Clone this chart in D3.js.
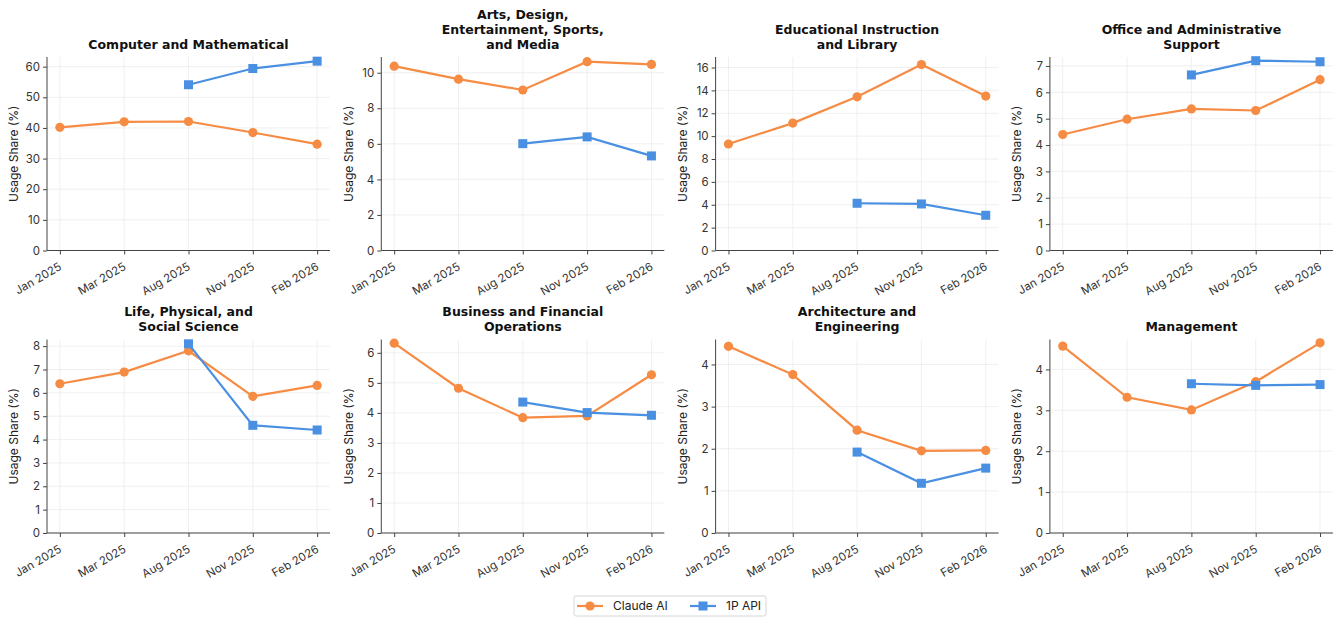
<!DOCTYPE html>
<html>
<head>
<meta charset="utf-8">
<script src="https://cdn.jsdelivr.net/npm/d3@7"></script>
<style>
	body { margin: 0; background: #fff; }
	svg { display: block; font-family: Inter, "Noto Sans", sans-serif; }
</style>
</head>
<body>
<script>
(function () {

	var months = ["Jan 2025", "Mar 2025", "Aug 2025", "Nov 2025", "Feb 2026"];

	var panelTitles = [
		["Computer and Mathematical"],
		["Arts, Design,", "Entertainment, Sports,", "and Media"],
		["Educational Instruction", "and Library"],
		["Office and Administrative", "Support"],
		["Life, Physical, and", "Social Science"],
		["Business and Financial", "Operations"],
		["Architecture and", "Engineering"],
		["Management"]
	];

	var seriesNames = ["Claude AI", "1P API"];

	// usage share (%), one row per panel
	var claudeAI = [
		[40.2, 42.0, 42.1, 38.5, 34.7],
		[10.37, 9.64, 9.03, 10.62, 10.47],
		[9.31, 11.14, 13.44, 16.26, 13.5],
		[4.40, 4.98, 5.37, 5.31, 6.48],
		[6.39, 6.89, 7.80, 5.85, 6.32],
		[6.32, 4.82, 3.84, 3.90, 5.27],
		[4.43, 3.76, 2.44, 1.95, 1.96],
		[4.57, 3.32, 3.01, 3.70, 4.65]
	];

	var api1P = [
		[null, null, 54.1, 59.4, 61.8],
		[null, null, 6.01, 6.39, 5.32],
		[null, null, 4.13, 4.07, 3.08],
		[null, null, 6.66, 7.20, 7.16],
		[null, null, 8.10, 4.61, 4.41],
		[null, null, 4.36, 4.01, 3.92],
		[null, null, 1.92, 1.18, 1.54],
		[null, null, 3.65, 3.61, 3.63]
	];

	var yTickStep = [10, 2, 2, 1, 1, 1, 1, 1];

	var colors = ["#F68B43", "#4A90E2"],
		w = 1339,
		h = 619,
		plotW = 283,
		plotH = 193.5,
		colLeft = 47,
		colStep = 334.3,
		rowTop = [57, 339.5];

	var svg = d3.select("body")
		.append("svg")
		.attr("width", w)
		.attr("height", h);

	svg.append("rect")
		.attr("width", w)
		.attr("height", h)
		.attr("fill", "#fff");

	var x = d3.scalePoint()
		.domain(months)
		.range([0, plotW])
		.padding(0.2);

	panelTitles.forEach(function (title, p) {
		var series = [claudeAI[p], api1P[p]],
			all = claudeAI[p].concat(api1P[p]).filter(function (v) { return v != null; }),
			ext = d3.extent(all),
			yMax = ext[1] + 0.05 * (ext[1] - ext[0]),
			ticks = d3.range(0, yMax + 1e-9, yTickStep[p]);

		var y = d3.scaleLinear()
			.domain([0, yMax])
			.range([plotH, 0]);

		var g = svg.append("g")
			.attr("transform", "translate(" + (colLeft + (p % 4) * colStep) + "," + rowTop[Math.floor(p / 4)] + ")");

		// grid
		g.append("g").selectAll("line")
			.data(ticks)
			.enter()
			.append("line")
			.attr("x1", 0).attr("x2", plotW)
			.attr("y1", function (d) { return y(d); })
			.attr("y2", function (d) { return y(d); })
			.attr("stroke", "#ececec")
			.attr("stroke-width", 0.8);

		g.append("g").selectAll("line")
			.data(months)
			.enter()
			.append("line")
			.attr("x1", function (d) { return x(d); })
			.attr("x2", function (d) { return x(d); })
			.attr("y1", 0).attr("y2", plotH)
			.attr("stroke", "#ececec")
			.attr("stroke-width", 0.8);

		// axes
		var yAxis = g.append("g")
			.call(d3.axisLeft(y).tickValues(ticks).tickSize(4).tickPadding(3).tickFormat(d3.format("d")));

		var xAxis = g.append("g")
			.attr("transform", "translate(0," + plotH + ")")
			.call(d3.axisBottom(x).tickSize(4).tickPadding(3));

		[yAxis, xAxis].forEach(function (a) {
			a.select(".domain").attr("stroke", "#444").attr("stroke-width", 1);
			a.selectAll(".tick line").attr("stroke", "#444");
			a.selectAll("text")
				.attr("fill", "#333")
				.style("font-size", "11.5px")
				.style("font-family", "Inter, sans-serif");
		});
		yAxis.select(".domain").attr("d", "M0," + plotH + "V0");
		xAxis.select(".domain").attr("d", "M0,0H" + plotW);

		xAxis.selectAll("text")
			.attr("text-anchor", "end")
			.attr("dy", "0.35em")
			.attr("y", 0)
			.attr("transform", "translate(0,15) rotate(-30)");

		g.append("text")
			.attr("transform", "translate(-33," + (plotH / 2) + ") rotate(-90)")
			.attr("text-anchor", "middle")
			.attr("dy", "0.35em")
			.attr("fill", "#222")
			.style("font-size", "12px")
			.text("Usage Share (%)");

		// title
		g.append("text")
			.attr("text-anchor", "middle")
			.attr("fill", "#111")
			.style("font-family", "'DejaVu Sans', sans-serif")
			.style("font-size", "12.5px")
			.style("font-weight", "bold")
			.selectAll("tspan")
			.data(title)
			.enter()
			.append("tspan")
			.attr("x", plotW / 2)
			.attr("y", function (d, i) { return -8.5 - (title.length - 1 - i) * 15; })
			.text(function (d) { return d; });

		// lines and markers
		series.forEach(function (vals, s) {
			var pts = vals.map(function (v, i) { return { m: months[i], v: v }; })
				.filter(function (d) { return d.v != null; });

			var line = d3.line()
				.x(function (d) { return x(d.m); })
				.y(function (d) { return y(d.v); });

			g.append("path")
				.datum(pts)
				.attr("d", line)
				.attr("fill", "none")
				.attr("stroke", colors[s])
				.attr("stroke-width", 2.2);

			if (s === 0) {
				g.selectAll(".c" + s)
					.data(pts)
					.enter()
					.append("circle")
					.attr("cx", function (d) { return x(d.m); })
					.attr("cy", function (d) { return y(d.v); })
					.attr("r", 4.6)
					.attr("fill", colors[s]);
			} else {
				g.selectAll(".c" + s)
					.data(pts)
					.enter()
					.append("rect")
					.attr("x", function (d) { return x(d.m) - 4.5; })
					.attr("y", function (d) { return y(d.v) - 4.5; })
					.attr("width", 9)
					.attr("height", 9)
					.attr("fill", colors[s]);
			}
		});
	});

	// legend
	var legend = svg.append("g")
		.attr("transform", "translate(574,596)");

	legend.append("rect")
		.attr("width", 192)
		.attr("height", 20)
		.attr("rx", 2)
		.attr("fill", "#fff")
		.attr("stroke", "#d6d6d6");

	var items = legend.selectAll("g")
		.data(seriesNames)
		.enter()
		.append("g")
		.attr("transform", function (d, i) { return "translate(" + (3 + i * 113) + ",10)"; });

	items.append("line")
		.attr("x1", 0).attr("x2", 26)
		.attr("stroke", function (d, i) { return colors[i]; })
		.attr("stroke-width", 2.2);

	items.each(function (d, i) {
		var it = d3.select(this);
		if (i === 0) {
			it.append("circle").attr("cx", 13).attr("r", 4.6).attr("fill", colors[i]);
		} else {
			it.append("rect").attr("x", 8.5).attr("y", -4.5).attr("width", 9).attr("height", 9).attr("fill", colors[i]);
		}
	});

	items.append("text")
		.attr("x", 36)
		.attr("dy", "0.35em")
		.attr("fill", "#222")
		.style("font-size", "12px")
		.text(function (d) { return d; });

}());
</script>
</body>
</html>
